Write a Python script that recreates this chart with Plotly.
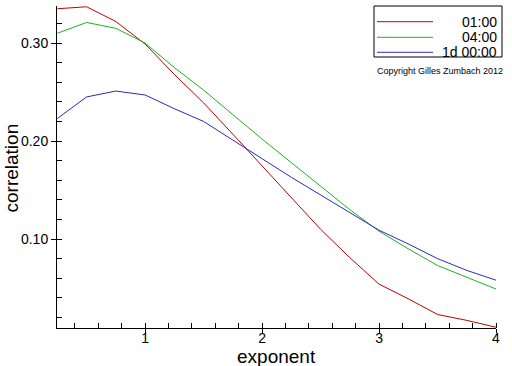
import plotly.graph_objects as go

# ---- data ----
exponent = [0.25, 0.5, 0.75, 1.0, 1.25, 1.5, 1.75, 2.0, 2.25, 2.5, 2.75, 3.0, 3.25, 3.5, 3.75, 4.0]
corr_0100 = [0.335, 0.337, 0.322, 0.299, 0.268, 0.239, 0.207, 0.175, 0.143, 0.110, 0.081, 0.054, 0.039, 0.023, 0.017, 0.010]
corr_0400 = [0.310, 0.321, 0.315, 0.300, 0.275, 0.252, 0.227, 0.202, 0.178, 0.154, 0.130, 0.108, 0.090, 0.073, 0.061, 0.049]
corr_1d = [0.223, 0.245, 0.251, 0.247, 0.233, 0.220, 0.201, 0.182, 0.163, 0.145, 0.127, 0.109, 0.095, 0.080, 0.068, 0.058]
series_names = ["01:00", "04:00", "1d 00:00"]
series_values = [corr_0100, corr_0400, corr_1d]
series_colors = ["#c00000", "#1fb01f", "#2a2ac0"]
x_ticks = [1, 2, 3, 4]
y_ticks = [0.10, 0.20, 0.30]
y_tick_labels = ["0.10", "0.20", "0.30"]
x_title = "exponent"
y_title = "correlation"
copyright_text = "Copyright Gilles Zumbach 2012"

W, H = 512, 366
L, R, T, B = 57, 16, 6, 38
PW, PH = W - L - R, H - T - B


def px_x(p):
    return (p - L) / PW


def px_y(p):
    return (T + PH - p) / PH


FONT = "Arial, Liberation Sans, sans-serif"
xr = [0.247, 4.0]
yr = [0.0092, 0.3378]

fig = go.Figure()
for name, vals, col in zip(series_names, series_values, series_colors):
    fig.add_trace(go.Scatter(x=exponent, y=vals, mode="lines", name=name,
                             line=dict(color=col, width=1), showlegend=False))
# empty trace for overlay axes (inside halves of major ticks)
fig.add_trace(go.Scatter(x=[], y=[], xaxis="x2", yaxis="y2", showlegend=False, hoverinfo="skip"))

fig.update_layout(
    width=W, height=H,
    margin=dict(l=L, r=R, t=T, b=B, autoexpand=False),
    paper_bgcolor="white", plot_bgcolor="white",
    font=dict(family=FONT, size=14, color="#000"),
    xaxis=dict(range=xr, tickvals=x_ticks, ticktext=[str(v) for v in x_ticks],
               ticks="outside", ticklen=4, tickcolor="#000", tickwidth=1, automargin=False,
               ticklabelstandoff=-7,
               showline=True, linecolor="#000", linewidth=1, showgrid=False, zeroline=False,
               minor=dict(dtick=0.2, tick0=0, ticks="inside", ticklen=5, tickcolor="#000", showgrid=False),
               tickfont=dict(size=14, family=FONT)),
    yaxis=dict(range=yr, tickvals=y_ticks, ticktext=y_tick_labels,
               ticks="outside", ticklen=5, tickcolor="#000", tickwidth=1, automargin=False,
               showline=True, linecolor="#000", linewidth=1, showgrid=False, zeroline=False,
               minor=dict(dtick=0.02, tick0=0, ticks="inside", ticklen=5, tickcolor="#000", showgrid=False),
               tickfont=dict(size=14, family=FONT)),
    xaxis2=dict(overlaying="x", range=xr, tickvals=x_ticks, ticks="inside", ticklen=5, automargin=False,
                tickcolor="#000", showticklabels=False, showline=False, showgrid=False,
                zeroline=False, side="bottom", anchor="y2"),
    yaxis2=dict(overlaying="y", range=yr, tickvals=y_ticks, ticks="inside", ticklen=5, automargin=False,
                tickcolor="#000", showticklabels=False, showline=False, showgrid=False,
                zeroline=False, side="left", anchor="x2"),
)

# ---- legend (drawn manually) ----
shapes = [dict(type="rect", xref="paper", yref="paper",
               x0=px_x(374), x1=px_x(502), y0=px_y(57), y1=px_y(6),
               line=dict(color="#000", width=1), fillcolor="white", layer="above")]
annotations = []
row_y = [21.7, 37.3, 52.3]
for name, col, ry in zip(series_names, series_colors, row_y):
    shapes.append(dict(type="line", xref="paper", yref="paper",
                       x0=px_x(377), x1=px_x(433), y0=px_y(ry), y1=px_y(ry),
                       line=dict(color=col, width=1), layer="above"))
    annotations.append(dict(text=name, xref="paper", yref="paper", x=px_x(499), y=px_y(ry),
                            xanchor="right", yanchor="middle", showarrow=False,
                            font=dict(size=14, family=FONT, color="#000")))
annotations.append(dict(text=copyright_text, xref="paper", yref="paper", x=px_x(440), y=px_y(71),
                        xanchor="center", yanchor="middle", showarrow=False,
                        font=dict(size=9, family=FONT, color="#000")))
# axis titles
annotations.append(dict(text=x_title, xref="paper", yref="paper", x=0.5, y=px_y(357),
                        xanchor="center", yanchor="middle", showarrow=False,
                        font=dict(size=19, family=FONT, color="#000")))
annotations.append(dict(text=y_title, xref="paper", yref="paper", x=px_x(11), y=0.5 * (px_y(9) + px_y(328)),
                        xanchor="center", yanchor="middle", showarrow=False, textangle=-90,
                        font=dict(size=19, family=FONT, color="#000")))
fig.update_layout(shapes=shapes, annotations=annotations)

fig.write_html("out.html", config={"displayModeBar": False},
               post_script="document.body.style.margin='0';")
